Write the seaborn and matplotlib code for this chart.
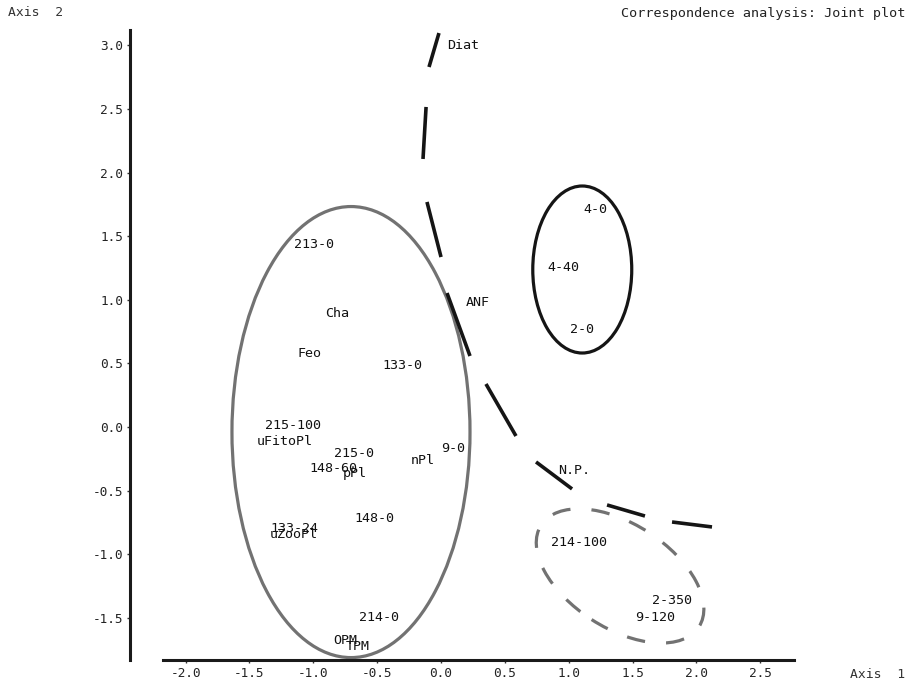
import numpy as np
import pandas as pd
import matplotlib
matplotlib.use("Agg")
import matplotlib.pyplot as plt
from matplotlib.patches import Ellipse
import seaborn as sns

# Joint-plot labels (rows and columns of the contingency table) with their coordinates
labels = ["Diat", "213-0", "Cha", "Feo", "133-0", "ANF", "4-0", "4-40", "2-0",
          "215-100", "uFitoPl", "215-0", "148-60", "pPl", "nPl", "9-0", "148-0",
          "133-24", "uZooPl", "214-0", "OPM", "TPM", "N.P.", "214-100", "2-350", "9-120"]
axis1 = [0.172, -0.995, -0.814, -1.026, -0.305, 0.290, 1.206, 0.955, 1.104,
         -1.159, -1.222, -0.681, -0.846, -0.673, -0.141, 0.094, -0.525,
         -1.151, -1.151, -0.486, -0.752, -0.650, 1.041, 1.081, 1.809, 1.676]
axis2 = [3.003, 1.431, 0.896, 0.574, 0.480, 0.975, 1.706, 1.250, 0.763,
         0.008, -0.118, -0.212, -0.330, -0.362, -0.267, -0.173, -0.723,
         -0.802, -0.849, -1.494, -1.675, -1.722, -0.346, -0.912, -1.368, -1.494]

# Separating curve, stored as the start/end of each of its dashes
curve_x = [-0.016, -0.094, -0.117, -0.141, -0.110, 0.000, 0.047, 0.227,
           0.352, 0.587, 0.744, 1.026, 1.300, 1.597, 1.809, 2.122]
curve_y = [3.097, 2.830, 2.516, 2.107, 1.769, 1.336, 1.053, 0.558,
           0.338, -0.071, -0.275, -0.487, -0.613, -0.700, -0.747, -0.786]
curve_dash = [1, 1, 2, 2, 3, 3, 4, 4, 5, 5, 6, 6, 7, 7, 8, 8]

# Grouping ellipses: centre x, centre y, width, height, angle
group_cx = [-0.705, 1.106, 1.402]
group_cy = [-0.040, 1.238, -1.171]
group_w = [1.864, 0.775, 1.472]
group_h = [3.546, 1.313, 0.818]
group_angle = [0.0, 0.0, -33.0]

x_ticks = [-2.0, -1.5, -1.0, -0.5, 0.0, 0.5, 1.0, 1.5, 2.0, 2.5]
y_ticks = [-1.5, -1.0, -0.5, 0.0, 0.5, 1.0, 1.5, 2.0, 2.5, 3.0]

sns.set_style("ticks")
plt.rcParams["font.family"] = ["DejaVu Sans Mono", "DejaVu Sans"]

W, H = 909, 687
fig = plt.figure(figsize=(W / 100, H / 100), dpi=100)
ax = fig.add_axes([163 / W, 1 - 660 / H, (794 - 163) / W, (660 - 30) / H])

curve = pd.DataFrame({"x": curve_x, "y": curve_y, "dash": curve_dash})
sns.lineplot(data=curve, x="x", y="y", units="dash", sort=False, estimator=None,
             ax=ax, color="#151515", linewidth=2.6)
for ln in ax.lines:
    ln.set_solid_capstyle("butt")

styles = [dict(edgecolor="#727272", linestyle="-"),
          dict(edgecolor="#151515", linestyle="-"),
          dict(edgecolor="#727272", linestyle=(0, (5.8, 6.6)))]
for cx, cy, w, h, ang, st in zip(group_cx, group_cy, group_w, group_h, group_angle, styles):
    ax.add_patch(Ellipse((cx, cy), w, h, angle=ang, facecolor="none",
                         linewidth=2.3, **st))

for lab, x, y in zip(labels, axis1, axis2):
    ax.text(x, y, lab, ha="center", va="center", fontsize=9.6, color="#111111")

ax.set_xlim(-2.177, 2.764)
ax.set_ylim(-1.832, 3.121)
ax.set_xticks(x_ticks)
ax.set_yticks(y_ticks)
ax.set_xticklabels([f"{v:.1f}" for v in x_ticks])
ax.set_yticklabels([f"{v:.1f}" for v in y_ticks])
ax.set_xlabel("")
ax.set_ylabel("")

sns.despine(ax=ax)
ax.spines["left"].set_position(("outward", 23.8))
for side in ("left", "bottom"):
    ax.spines[side].set_linewidth(2.2)
    ax.spines[side].set_color("#1a1a1a")
ax.tick_params(axis="both", direction="out", length=2.5, width=1, color="#333333",
               labelsize=9.2, labelcolor="#222222", pad=2.5)

fig.text(8 / W, 1 - 13 / H, "Axis  2", ha="left", va="center", fontsize=9.4, color="#333333")
fig.text(905 / W, 1 - 13 / H, "Correspondence analysis: Joint plot", ha="right",
         va="center", fontsize=9.7, color="#222222")
fig.text(905 / W, 1 - 675 / H, "Axis  1", ha="right", va="center", fontsize=9.4, color="#333333")

fig.savefig("out.png", dpi=100, facecolor="white")
